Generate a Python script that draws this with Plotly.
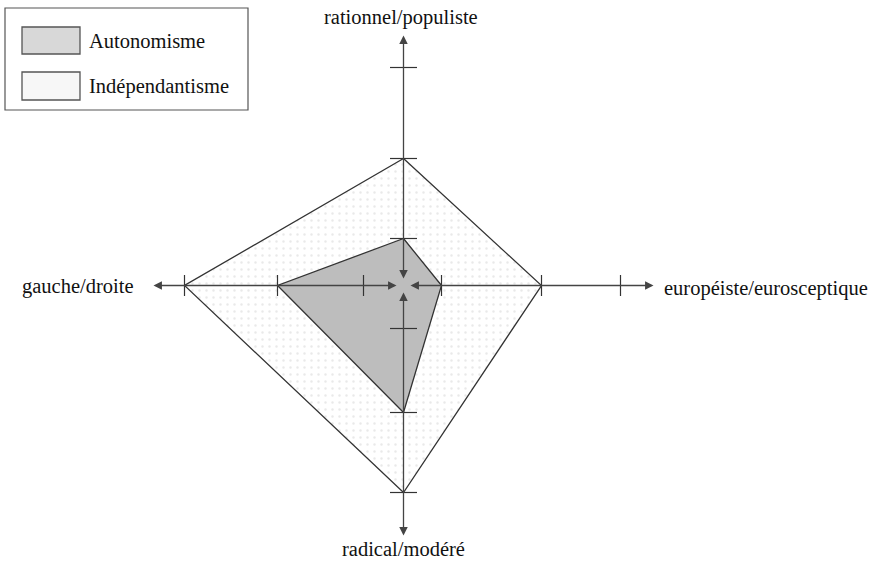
import plotly.graph_objects as go

# ---- data ----
axes_names = ["rationnel/populiste", "européiste/eurosceptique", "radical/modéré", "gauche/droite"]
# radial value along each axis (up, right, down, left)
autonomisme = [47, 38, 127, 126]
independantisme = [127, 138, 207, 219]
# tick radii on each axis (up, right, down, left)
ticks_up = [47, 127, 218]
ticks_right = [38, 138, 217]
ticks_down = [43, 127, 207]
ticks_left = [40, 126, 219]
series_names = ["Autonomisme", "Indépendantisme"]

W, H = 872, 561
CX, CY = 403.5, 285.5  # centre in pixels

def px(x):
    return x - CX

def py(y):
    return CY - y

dirs = [(0, 1), (1, 0), (0, -1), (-1, 0)]

def poly(vals):
    xs = [d[0] * v for d, v in zip(dirs, vals)]
    ys = [d[1] * v for d, v in zip(dirs, vals)]
    return xs + [xs[0]], ys + [ys[0]]

fig = go.Figure()

xi, yi = poly(independantisme)
fig.add_trace(go.Scatter(x=xi, y=yi, mode="lines", fill="toself",
                         fillcolor="white",
                         fillpattern=dict(shape=".", fgcolor="#d4d4d4", bgcolor="white", size=7, solidity=0.1),
                         line=dict(color="#333333", width=1.3), name=series_names[1],
                         hoverinfo="skip", showlegend=False))
xa, ya = poly(autonomisme)
fig.add_trace(go.Scatter(x=xa, y=ya, mode="lines", fill="toself", fillcolor="#bdbdbd",
                         line=dict(color="#333333", width=1.3), name=series_names[0],
                         hoverinfo="skip", showlegend=False))

# ticks
tx, ty = [], []
for d, tl in zip(dirs, [ticks_up, ticks_right, ticks_down, ticks_left]):
    for t in tl:
        if d[0] == 0:
            half = 13.5
            tx += [-half, half, None]
            ty += [d[1] * t, d[1] * t, None]
        else:
            half = 10.5
            tx += [d[0] * t, d[0] * t, None]
            ty += [-half, half, None]
fig.add_trace(go.Scatter(x=tx, y=ty, mode="lines", line=dict(color="#333333", width=1.2),
                         hoverinfo="skip", showlegend=False))

# axis arrows (double-headed)
inner, outer = 5.5, 250
annotations = []
for d in dirs:
    annotations.append(dict(x=d[0] * outer, y=d[1] * outer, ax=d[0] * inner, ay=d[1] * inner,
                            xref="x", yref="y", axref="x", ayref="y", text="",
                            showarrow=True, arrowhead=2, startarrowhead=2, arrowside="end+start",
                            arrowsize=1.3, startarrowsize=1.3, arrowwidth=1.3, arrowcolor="#444444"))

font = dict(family="Liberation Serif, Times New Roman, serif", size=20.5, color="#111111")
annotations += [
    dict(x=px(401), y=py(17), text=axes_names[0], xref="x", yref="y", showarrow=False,
         xanchor="center", yanchor="middle", font=font),
    dict(x=px(662), y=py(288), text=axes_names[1], xref="x", yref="y", showarrow=False,
         xanchor="left", yanchor="middle", font=font),
    dict(x=px(403), y=py(549), text=axes_names[2], xref="x", yref="y", showarrow=False,
         xanchor="center", yanchor="middle", font=font),
    dict(x=px(136), y=py(286), text=axes_names[3], xref="x", yref="y", showarrow=False,
         xanchor="right", yanchor="middle", font=font),
    dict(x=px(87), y=py(41), text=series_names[0], xref="x", yref="y", showarrow=False,
         xanchor="left", yanchor="middle", font=font),
    dict(x=px(87), y=py(86), text=series_names[1], xref="x", yref="y", showarrow=False,
         xanchor="left", yanchor="middle", font=font),
]

shapes = [
    dict(type="rect", xref="x", yref="y", x0=px(5), x1=px(248), y0=py(8), y1=py(110),
         line=dict(color="#555555", width=1.2), fillcolor="white", layer="below"),
    dict(type="rect", xref="x", yref="y", x0=px(22), x1=px(80), y0=py(27), y1=py(54),
         line=dict(color="#555555", width=1.3), fillcolor="#d8d8d8"),
    dict(type="rect", xref="x", yref="y", x0=px(22), x1=px(80), y0=py(72), y1=py(100),
         line=dict(color="#555555", width=1.3), fillcolor="#f7f7f7"),
]

fig.update_layout(
    width=W, height=H, margin=dict(l=0, r=0, t=0, b=0),
    paper_bgcolor="white", plot_bgcolor="white",
    xaxis=dict(range=[px(0), px(W)], visible=False, fixedrange=True),
    yaxis=dict(range=[py(H), py(0)], visible=False, fixedrange=True),
    annotations=annotations, shapes=shapes, showlegend=False,
)

fig.write_html("out.html", config={"displayModeBar": False},
               post_script="document.body.style.margin='0';document.body.style.overflow='hidden';")
